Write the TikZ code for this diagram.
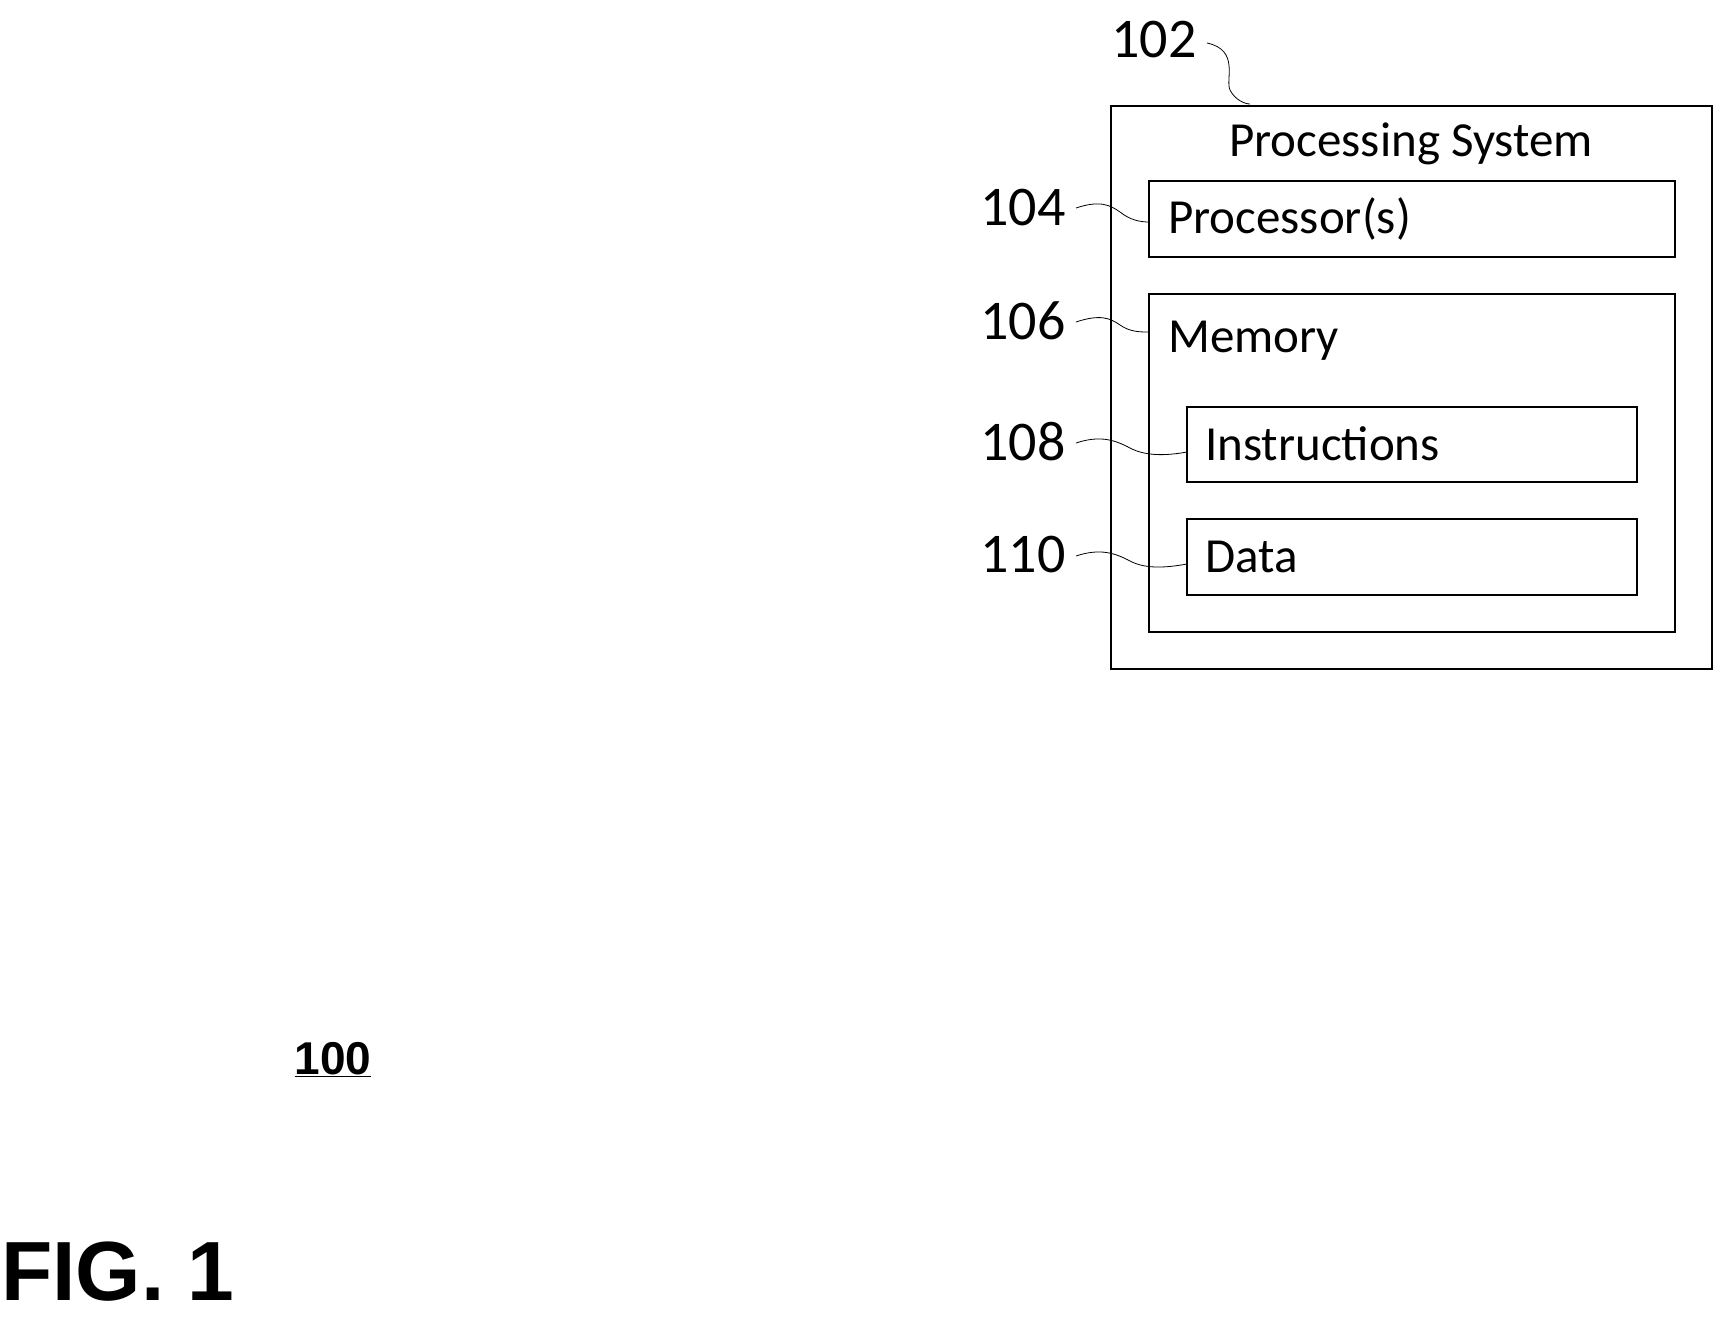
\documentclass[tikz,border=0pt]{standalone}
\usepackage{fontspec}
\setmainfont{Carlito}
\newfontfamily\arialb{Liberation Sans}
\begin{document}
\begin{tikzpicture}[x=1pt,y=-1pt,
  box/.style={draw,line width=2pt},
  lbl/.style={font=\fontsize{56}{60}\selectfont,inner sep=0pt},
  txt/.style={font=\fontsize{49}{54}\selectfont,inner sep=0pt,anchor=west},
  lead/.style={line width=0.8pt}]
\useasboundingbox (0,0) rectangle (1734,1319);
\draw[box] (1111,106) rectangle (1712,669);
\node[inner sep=0pt] (ps) at (1411,144) {\fontsize{49}{54}\selectfont Processing System};
\draw[box] (1149,181) rectangle (1675,257);
\node[txt] (proc) at (1168,219) {Processor(s)};
\draw[box] (1149,294) rectangle (1675,632);
\node[txt] (mem) at (1168,341) {Memory};
\draw[box] (1187,407) rectangle (1637,482);
\node[txt] (ins) at (1205,444) {Instructions};
\draw[box] (1187,519) rectangle (1637,595);
\node[txt] (dat) at (1205,557) {Data};
\coordinate (b102) at (1250,104);
\coordinate (b104) at (1149,222);
\coordinate (b106) at (1149,332);
\coordinate (b108) at (1187,452);
\coordinate (b110) at (1187,564);
\node[lbl] (l102) at (1154,40) {102};
\node[lbl] (l104) at (1023,208) {104};
\node[lbl] (l106) at (1023,321) {106};
\node[lbl] (l108) at (1023,442) {108};
\node[lbl] (l110) at (1023,555) {110};
\draw[lead] (1207,43) .. controls (1240,50) and (1225,80) .. (1230,90) .. controls (1235,100) and (1245,104) .. (b102);
\draw[lead] (1076,208) .. controls (1100,200) and (1110,205) .. (1120,212) .. controls (1130,220) and (1140,222) .. (b104);
\draw[lead] (1076,322) .. controls (1100,314) and (1110,318) .. (1120,325) .. controls (1130,332) and (1140,332) .. (b106);
\draw[lead] (1076,443) .. controls (1100,435) and (1115,440) .. (1130,448) .. controls (1145,456) and (1165,456) .. (b108);
\draw[lead] (1076,556) .. controls (1100,548) and (1115,553) .. (1130,561) .. controls (1145,569) and (1165,568) .. (b110);
\node[inner sep=0pt] (n100) at (333,1060) {\arialb\bfseries\fontsize{46}{50}\selectfont\underline{100}};
\node[inner sep=0pt] (fig) at (118,1272) {\arialb\bfseries\fontsize{84}{90}\selectfont FIG. 1};
\end{tikzpicture}
\end{document}
